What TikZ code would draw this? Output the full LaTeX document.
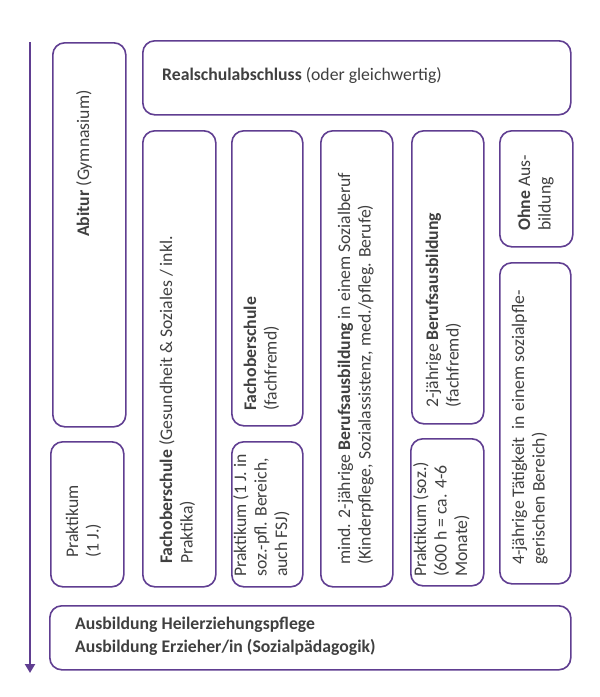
\documentclass[tikz,border=0pt]{standalone}
\usepackage{fontspec}
\setmainfont{Carlito}
\usetikzlibrary{arrows.meta}
\definecolor{lila}{RGB}{96,62,145}
\definecolor{txtgray}{RGB}{64,64,64}
\begin{document}
\begin{tikzpicture}[x=1pt,y=-1pt,
  box/.style={draw=lila, line width=1.6pt, rounded corners=12pt, inner sep=0pt, anchor=north west},
  vtxt/.style={rotate=90, anchor=north west, inner sep=0pt, align=left, text=txtgray, font=\fontsize{17.7}{20.5}\selectfont},
  htxt/.style={anchor=north west, inner sep=0pt, align=left, text=txtgray, font=\fontsize{17.7}{23}\selectfont},
  flow/.style={draw=lila, line width=2.8pt, -{Triangle[length=9pt, width=10pt]}}]
\useasboundingbox[fill=white] (0,0) rectangle (600,697);
% boxes
\node[box, minimum width=73pt, minimum height=384pt] (abitur) at (52,42) {};
\node[box, minimum width=428pt, minimum height=74pt] (real) at (142,40) {};
\node[box, minimum width=73pt, minimum height=456pt] (fosg) at (142,130) {};
\node[box, minimum width=71pt, minimum height=295pt] (fosf) at (231,130) {};
\node[box, minimum width=72pt, minimum height=456pt] (mind) at (320,130) {};
\node[box, minimum width=72pt, minimum height=293pt] (zweij) at (411,130) {};
\node[box, minimum width=73pt, minimum height=116pt] (ohne) at (499,130) {};
\node[box, minimum width=71pt, minimum height=321pt] (vierj) at (499,262) {};
\node[box, minimum width=73pt, minimum height=145pt] (prakA) at (50,441) {};
\node[box, minimum width=71pt, minimum height=145pt] (prakB) at (231,441) {};
\node[box, minimum width=73pt, minimum height=147pt] (prakC) at (410,438) {};
\node[box, minimum width=521pt, minimum height=64pt] (ziel) at (49,605) {};
% arrow
\coordinate (atop) at (30,42);
\coordinate (abot) at (30,673);
\draw[flow] (atop) -- (abot);
% texts
\node[htxt] (real-t) at (162,63.9) {\strut\textbf{Realschulabschluss} (oder gleichwertig)};
\node[vtxt] (abitur-t) at (74.65,237) {\strut\textbf{Abitur} (Gymnasium)};
\node[vtxt] (fosg-t) at (157.65,564) {\strut\textbf{Fachoberschule} (Gesundheit \& Soziales / inkl.\\Praktika)};
\node[vtxt] (fosf-t) at (241.65,411) {\strut\textbf{Fachoberschule}\\(fachfremd)};
\node[vtxt] (mind-t) at (335.65,565) {\strut mind. 2-jährige \textbf{Berufsausbildung} in einem Sozialberuf\\(Kinderpflege, Sozialassistenz, med./pfleg. Berufe)};
\node[vtxt] (zweij-t) at (423.65,408) {\strut 2-jährige \textbf{Berufsausbildung}\\(fachfremd)};
\node[vtxt] (ohne-t) at (515.65,231) {\strut\textbf{Ohne} Aus-\\bildung};
\node[vtxt] (vierj-t) at (509.65,565) {\strut 4-jährige Tätigkeit\ \ in einem sozialpfle-\\gerischen Bereich)};
\node[vtxt] (prakA-t) at (63.65,558) {\strut Praktikum\\(1 J.)};
\node[vtxt] (prakB-t) at (231.65,577) {\strut Praktikum (1 J. in\\soz.-pfl. Bereich,\\auch FSJ)};
\node[vtxt] (prakC-t) at (411.65,577) {\strut Praktikum (soz.)\\(600 h = ca. 4-6\\Monate)};
\node[htxt] (ziel-t) at (75,612.9) {\strut\textbf{Ausbildung Heilerziehungspflege}\\\textbf{Ausbildung Erzieher/in (Sozialpädagogik)}};
\end{tikzpicture}
\end{document}
